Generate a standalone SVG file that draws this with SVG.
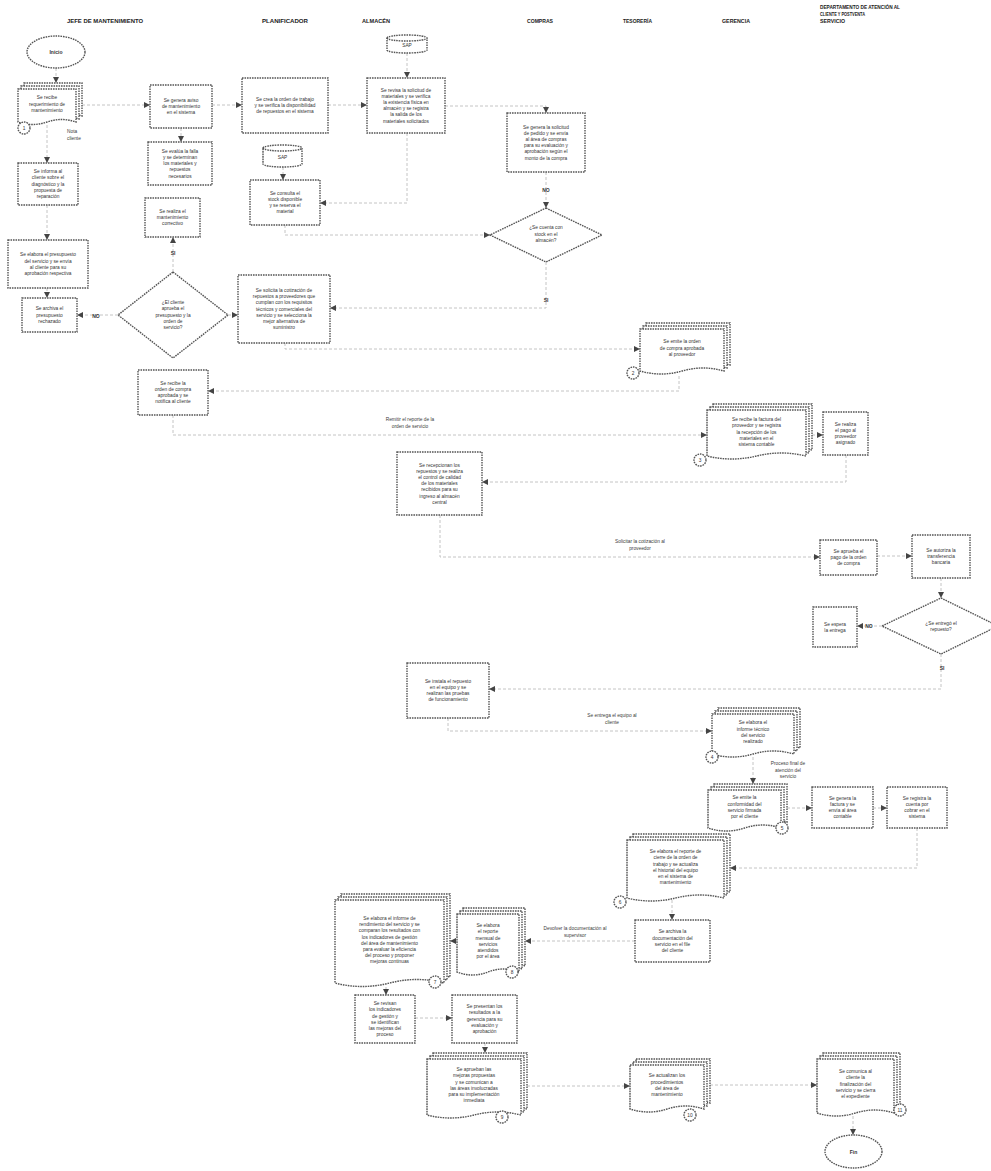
<svg xmlns="http://www.w3.org/2000/svg" width="991" height="1171" viewBox="0 0 991 1171">
<defs>
<style>
.b{fill:#fff;stroke:#555;stroke-width:1.4;stroke-dasharray:1.6 0.9}
.c{fill:none;stroke:#bdbdbd;stroke-width:0.9;stroke-dasharray:3 2}
.t{font-family:"Liberation Sans",Arial,sans-serif;font-size:4.8px;fill:#333;text-anchor:middle}
.l{font-family:"Liberation Sans",Arial,sans-serif;font-size:4.8px;fill:#3c3c3c;text-anchor:middle}
.y{font-family:"Liberation Sans",Arial,sans-serif;font-size:5px;font-weight:bold;fill:#333;text-anchor:middle}
.h{font-family:"Liberation Sans",Arial,sans-serif;font-size:5px;font-weight:bold;fill:#222}
</style>
<marker id="a" markerWidth="6" markerHeight="6" refX="6" refY="3" orient="auto" markerUnits="userSpaceOnUse"><path d="M0,0 L6,3 L0,6 z" fill="#444"/></marker>
</defs>
<rect width="991" height="1171" fill="#fff"/>

<g id="headers">
<text class="h" x="67" y="23" textLength="76" lengthAdjust="spacingAndGlyphs">JEFE DE MANTENIMIENTO</text>
<text class="h" x="262" y="23" textLength="46" lengthAdjust="spacingAndGlyphs">PLANIFICADOR</text>
<text class="h" x="362" y="23" textLength="28" lengthAdjust="spacingAndGlyphs">ALMACÉN</text>
<text class="h" x="527" y="23" textLength="26" lengthAdjust="spacingAndGlyphs">COMPRAS</text>
<text class="h" x="623" y="23" textLength="29" lengthAdjust="spacingAndGlyphs">TESORERÍA</text>
<text class="h" x="722" y="23" textLength="28" lengthAdjust="spacingAndGlyphs">GERENCIA</text>
<text class="h" x="820" y="9" textLength="80" lengthAdjust="spacingAndGlyphs">DEPARTAMENTO DE ATENCIÓN AL</text>
<text class="h" x="820" y="16" textLength="45" lengthAdjust="spacingAndGlyphs">CLIENTE Y POSTVENTA</text>
<text class="h" x="820" y="23" textLength="25" lengthAdjust="spacingAndGlyphs">SERVICIO</text>
</g>

<g id="connectors">
<path class="c" marker-end="url(#a)" d="M56,68 V83"/>
<path class="c" marker-end="url(#a)" d="M82,105 H150"/>
<path class="c" marker-end="url(#a)" d="M181,128 V142"/>
<path class="c" marker-end="url(#a)" d="M212,105 H242"/>
<path class="c" marker-end="url(#a)" d="M328,105 H367"/>
<path class="c" marker-end="url(#a)" d="M407,53 V78"/>
<path class="c" marker-end="url(#a)" d="M445,106 H546 V113"/>
<path class="c" marker-end="url(#a)" d="M546,172 V208"/>
<path class="c" marker-end="url(#a)" d="M407,133 V203 H320"/>
<path class="c" marker-end="url(#a)" d="M283,167 V180"/>
<path class="c" marker-end="url(#a)" d="M285,225 V235 H490"/>
<path class="c" marker-end="url(#a)" d="M546,262 V308 H330"/>
<path class="c" marker-end="url(#a)" d="M228,315 H238"/>
<path class="c" marker-end="url(#a)" d="M285,343 V349 H640"/>
<path class="c" marker-end="url(#a)" d="M679,376 V391 H208"/>
<path class="c" marker-end="url(#a)" d="M173,415 V435 H707"/>
<path class="c" marker-end="url(#a)" d="M812,435 H823"/>
<path class="c" marker-end="url(#a)" d="M846,455 V482 H482"/>
<path class="c" marker-end="url(#a)" d="M440,515 V557 H820"/>
<path class="c" marker-end="url(#a)" d="M877,556 H912"/>
<path class="c" marker-end="url(#a)" d="M941,578 V598"/>
<path class="c" marker-end="url(#a)" d="M882,626 H857"/>
<path class="c" marker-end="url(#a)" d="M941,654 V689 H489"/>
<path class="c" marker-end="url(#a)" d="M448,718 V731 H712"/>
<path class="c" marker-end="url(#a)" d="M753,757 V784"/>
<path class="c" marker-end="url(#a)" d="M787,808 H812"/>
<path class="c" marker-end="url(#a)" d="M873,808 H887"/>
<path class="c" marker-end="url(#a)" d="M917,828 V868 H730"/>
<path class="c" marker-end="url(#a)" d="M672,900 V920"/>
<path class="c" marker-end="url(#a)" d="M635,941 H525"/>
<path class="c" marker-end="url(#a)" d="M457,941 H450"/>
<path class="c" marker-end="url(#a)" d="M386,987 V995"/>
<path class="c" marker-end="url(#a)" d="M415,1018 H452"/>
<path class="c" marker-end="url(#a)" d="M485,1043 V1053"/>
<path class="c" marker-end="url(#a)" d="M527,1086 H630"/>
<path class="c" marker-end="url(#a)" d="M710,1085 H817"/>
<path class="c" marker-end="url(#a)" d="M853,1116 V1135"/>
<path class="c" marker-end="url(#a)" d="M47,125 V163"/>
<path class="c" marker-end="url(#a)" d="M47,205 V240"/>
<path class="c" marker-end="url(#a)" d="M47,288 V298"/>
<path class="c" marker-end="url(#a)" d="M118,315 H77"/>
<path class="c" marker-end="url(#a)" d="M173,272 V237"/>
<text class="l" x="67" y="133" style="text-anchor:start">Nota</text>
<text class="l" x="67" y="140" style="text-anchor:start">cliente</text>
<text class="y" x="546" y="192">NO</text>
<text class="y" x="546" y="302">SI</text>
<text class="y" x="173" y="255">SI</text>
<text class="y" x="96" y="318">NO</text>
<text class="l" x="410" y="421">Remitir el reporte de la<tspan x="410" dy="6.5">orden de servicio</tspan></text>
<text class="l" x="640" y="543">Solicitar la cotización al<tspan x="640" dy="6.5">proveedor</tspan></text>
<text class="y" x="869" y="628">NO</text>
<text class="y" x="942" y="670">SI</text>
<text class="l" x="612" y="717">Se entrega el equipo al<tspan x="612" dy="6.5">cliente</tspan></text>
<text class="l" x="788" y="765">Proceso final de<tspan x="788" dy="6.5">atención del</tspan><tspan x="788" dy="6.5">servicio</tspan></text>
<text class="l" x="575" y="930">Devolver la documentación al<tspan x="575" dy="6.5">supervisor</tspan></text>
</g>

<g id="start"><ellipse class="b" cx="56" cy="52" rx="29" ry="16"/><text class="y" x="56" y="54">Inicio</text></g>

<g id="doc1">
<g transform="translate(18,89)"><path class="b" d="M6,-6 h58 v33 q-14.5,-5 -29,0 t-29,0 z"/><path class="b" d="M3,-3 h58 v33 q-14.5,-5 -29,0 t-29,0 z"/><path class="b" d="M0,0 h58 v33 q-14.5,-5 -29,0 t-29,0 z"/></g>
<circle class="b" cx="24" cy="128" r="6"/><text class="t" x="24" y="130">1</text>
<text class="t" x="47" y="99.4">Se recibe<tspan x="47" dy="6.2">requerimiento de</tspan><tspan x="47" dy="6.2">mantenimiento</tspan></text>
</g>

<g id="p1"><rect class="b" x="150" y="85" width="62" height="43"/><text class="t" x="181" y="101.9">Se genera aviso<tspan x="181" dy="6.2">de mantenimiento</tspan><tspan x="181" dy="6.2">en el sistema</tspan></text></g>
<g id="p2"><rect class="b" x="148" y="142" width="64" height="43"/><text class="t" x="180" y="152.7">Se evalúa la falla<tspan x="180" dy="6.2">y se determinan</tspan><tspan x="180" dy="6.2">los materiales y</tspan><tspan x="180" dy="6.2">repuestos</tspan><tspan x="180" dy="6.2">necesarios</tspan></text></g>
<g id="p3"><rect class="b" x="242" y="78" width="86" height="55"/><text class="t" x="285" y="100.9">Se crea la orden de trabajo<tspan x="285" dy="6.2">y se verifica la disponibilidad</tspan><tspan x="285" dy="6.2">de repuestos en el sistema</tspan></text></g>
<g id="db1"><path class="b" d="M263,148 a19.5,3 0 0 1 39,0 v16 a19.5,3 0 0 1 -39,0 z"/><path class="b" d="M263,148 a19.5,3 0 0 0 39,0" fill="none"/><text class="t" x="282.5" y="159">SAP</text></g>
<g id="p4"><rect class="b" x="250" y="180" width="70" height="45"/><text class="t" x="285" y="194.8">Se consulta el<tspan x="285" dy="6.2">stock disponible</tspan><tspan x="285" dy="6.2">y se reserva el</tspan><tspan x="285" dy="6.2">material</tspan></text></g>
<g id="db2"><path class="b" d="M387,38 a20,3 0 0 1 40,0 v12 a20,3 0 0 1 -40,0 z"/><path class="b" d="M387,38 a20,3 0 0 0 40,0" fill="none"/><text class="t" x="407" y="47">SAP</text></g>
<g id="p5"><rect class="b" x="367" y="78" width="78" height="55"/><text class="t" x="406" y="91.6">Se revisa la solicitud de<tspan x="406" dy="6.2">materiales y se verifica</tspan><tspan x="406" dy="6.2">la existencia física en</tspan><tspan x="406" dy="6.2">almacén y se registra</tspan><tspan x="406" dy="6.2">la salida de los</tspan><tspan x="406" dy="6.2">materiales solicitados</tspan></text></g>
<g id="p6"><rect class="b" x="507" y="113" width="78" height="59"/><text class="t" x="546" y="128.6">Se genera la solicitud<tspan x="546" dy="6.2">de pedido y se envía</tspan><tspan x="546" dy="6.2">al área de compras</tspan><tspan x="546" dy="6.2">para su evaluación y</tspan><tspan x="546" dy="6.2">aprobación según el</tspan><tspan x="546" dy="6.2">monto de la compra</tspan></text></g>
<g id="p7"><rect class="b" x="18" y="163" width="60" height="42"/><text class="t" x="48" y="173.2">Se informa al<tspan x="48" dy="6.2">cliente sobre el</tspan><tspan x="48" dy="6.2">diagnóstico y la</tspan><tspan x="48" dy="6.2">propuesta de</tspan><tspan x="48" dy="6.2">reparación</tspan></text></g>
<g id="p8"><rect class="b" x="8" y="240" width="80" height="48"/><text class="t" x="48" y="256.3">Se elabora el presupuesto<tspan x="48" dy="6.2">del servicio y se envía</tspan><tspan x="48" dy="6.2">al cliente para su</tspan><tspan x="48" dy="6.2">aprobación respectiva</tspan></text></g>
<g id="p9"><rect class="b" x="22" y="298" width="55" height="34"/><text class="t" x="49.5" y="310.4">Se archiva el<tspan x="49.5" dy="6.2">presupuesto</tspan><tspan x="49.5" dy="6.2">rechazado</tspan></text></g>
<g id="p10"><rect class="b" x="145" y="198" width="55" height="39"/><text class="t" x="172.5" y="212.9">Se realiza el<tspan x="172.5" dy="6.2">mantenimiento</tspan><tspan x="172.5" dy="6.2">correctivo</tspan></text></g>
<g id="d1"><path class="b" d="M173,272 L228,315 L173,358 L118,315 z"/><text class="t" x="173" y="304.2">¿El cliente<tspan x="173" dy="6.2">aprueba el</tspan><tspan x="173" dy="6.2">presupuesto y la</tspan><tspan x="173" dy="6.2">orden de</tspan><tspan x="173" dy="6.2">servicio?</tspan></text></g>
<g id="p11"><rect class="b" x="238" y="275" width="92" height="68"/><text class="t" x="284" y="292">Se solicita la cotización de<tspan x="284" dy="6.2">repuestos a proveedores que</tspan><tspan x="284" dy="6.2">cumplan con los requisitos</tspan><tspan x="284" dy="6.2">técnicos y comerciales del</tspan><tspan x="284" dy="6.2">servicio y se selecciona la</tspan><tspan x="284" dy="6.2">mejor alternativa de</tspan><tspan x="284" dy="6.2">suministro</tspan></text></g>
<g id="d2"><path class="b" d="M546,208 L602,235 L546,262 L490,235 z"/><text class="t" x="546" y="229.4">¿Se cuenta con<tspan x="546" dy="6.2">stock en el</tspan><tspan x="546" dy="6.2">almacén?</tspan></text></g>
<g id="p12"><rect class="b" x="138" y="370" width="70" height="45"/><text class="t" x="173" y="384.8">Se recibe la<tspan x="173" dy="6.2">orden de compra</tspan><tspan x="173" dy="6.2">aprobada y se</tspan><tspan x="173" dy="6.2">notifica al cliente</tspan></text></g>

<g id="docA">
<g transform="translate(640,329)"><path class="b" d="M6,-6 h84 v42 q-21,-6 -42,0 t-42,0 z"/><path class="b" d="M3,-3 h84 v42 q-21,-6 -42,0 t-42,0 z"/><path class="b" d="M0,0 h84 v42 q-21,-6 -42,0 t-42,0 z"/></g>
<circle class="b" cx="633" cy="373" r="6"/><text class="t" x="633" y="375">2</text>
<text class="t" x="682" y="343.4">Se emite la orden<tspan x="682" dy="6.2">de compra aprobada</tspan><tspan x="682" dy="6.2">al proveedor</tspan></text>
</g>

<g id="docB">
<g transform="translate(707,410)"><path class="b" d="M6,-6 h99 v46 q-24.75,-6 -49.5,0 t-49.5,0 z"/><path class="b" d="M3,-3 h99 v46 q-24.75,-6 -49.5,0 t-49.5,0 z"/><path class="b" d="M0,0 h99 v46 q-24.75,-6 -49.5,0 t-49.5,0 z"/></g>
<circle class="b" cx="700" cy="460" r="6"/><text class="t" x="700" y="462">3</text>
<text class="t" x="756.5" y="421.2">Se recibe la factura del<tspan x="756.5" dy="6.2">proveedor y se registra</tspan><tspan x="756.5" dy="6.2">la recepción de los</tspan><tspan x="756.5" dy="6.2">materiales en el</tspan><tspan x="756.5" dy="6.2">sistema contable</tspan></text>
</g>

<g id="pC"><rect class="b" x="823" y="412" width="45" height="43"/><text class="t" x="845.5" y="425.8">Se realiza<tspan x="845.5" dy="6.2">el pago al</tspan><tspan x="845.5" dy="6.2">proveedor</tspan><tspan x="845.5" dy="6.2">asignado</tspan></text></g>
<g id="p13"><rect class="b" x="397" y="452" width="85" height="63"/><text class="t" x="439.5" y="466.5">Se recepcionan los<tspan x="439.5" dy="6.2">repuestos y se realiza</tspan><tspan x="439.5" dy="6.2">el control de calidad</tspan><tspan x="439.5" dy="6.2">de los materiales</tspan><tspan x="439.5" dy="6.2">recibidos para su</tspan><tspan x="439.5" dy="6.2">ingreso al almacén</tspan><tspan x="439.5" dy="6.2">central</tspan></text></g>
<g id="p14"><rect class="b" x="820" y="540" width="57" height="35"/><text class="t" x="848.5" y="553">Se aprueba el<tspan x="848.5" dy="6.2">pago de la orden</tspan><tspan x="848.5" dy="6.2">de compra</tspan></text></g>
<g id="p15"><rect class="b" x="912" y="535" width="58" height="43"/><text class="t" x="941" y="551.9">Se autoriza la<tspan x="941" dy="6.2">transferencia</tspan><tspan x="941" dy="6.2">bancaria</tspan></text></g>
<g id="d3"><path class="b" d="M941,598 L998,626 L941,654 L882,626 z"/><text class="t" x="941" y="624.5">¿Se entregó el<tspan x="941" dy="6.2">repuesto?</tspan></text></g>
<g id="p16"><rect class="b" x="813" y="607" width="44" height="40"/><text class="t" x="835" y="625.5">Se espera<tspan x="835" dy="6.2">la entrega</tspan></text></g>
<g id="p17"><rect class="b" x="407" y="663" width="82" height="55"/><text class="t" x="448" y="682.8">Se instala el repuesto<tspan x="448" dy="6.2">en el equipo y se</tspan><tspan x="448" dy="6.2">realizan las pruebas</tspan><tspan x="448" dy="6.2">de funcionamiento</tspan></text></g>

<g id="docD">
<g transform="translate(712,714)"><path class="b" d="M6,-6 h82 v40 q-20.5,-6 -41,0 t-41,0 z"/><path class="b" d="M3,-3 h82 v40 q-20.5,-6 -41,0 t-41,0 z"/><path class="b" d="M0,0 h82 v40 q-20.5,-6 -41,0 t-41,0 z"/></g>
<circle class="b" cx="712" cy="757" r="6"/><text class="t" x="712" y="759">4</text>
<text class="t" x="753" y="724.3">Se elabora el<tspan x="753" dy="6.2">informe técnico</tspan><tspan x="753" dy="6.2">del servicio</tspan><tspan x="753" dy="6.2">realizado</tspan></text>
</g>

<g id="docE">
<g transform="translate(708,790)"><path class="b" d="M6,-6 h73 v38 q-18.25,-6 -36.5,0 t-36.5,0 z"/><path class="b" d="M3,-3 h73 v38 q-18.25,-6 -36.5,0 t-36.5,0 z"/><path class="b" d="M0,0 h73 v38 q-18.25,-6 -36.5,0 t-36.5,0 z"/></g>
<circle class="b" cx="782" cy="828" r="6"/><text class="t" x="782" y="830">5</text>
<text class="t" x="744.5" y="799.3">Se emite la<tspan x="744.5" dy="6.2">conformidad del</tspan><tspan x="744.5" dy="6.2">servicio firmada</tspan><tspan x="744.5" dy="6.2">por el cliente</tspan></text>
</g>

<g id="pF"><rect class="b" x="812" y="787" width="61" height="41"/><text class="t" x="842.5" y="799.8">Se genera la<tspan x="842.5" dy="6.2">factura y se</tspan><tspan x="842.5" dy="6.2">envía al área</tspan><tspan x="842.5" dy="6.2">contable</tspan></text></g>
<g id="pG"><rect class="b" x="887" y="787" width="60" height="41"/><text class="t" x="917" y="799.8">Se registra la<tspan x="917" dy="6.2">cuenta por</tspan><tspan x="917" dy="6.2">cobrar en el</tspan><tspan x="917" dy="6.2">sistema</tspan></text></g>

<g id="docH">
<g transform="translate(627,840)"><path class="b" d="M6,-6 h97 v58 q-24.25,-6 -48.5,0 t-48.5,0 z"/><path class="b" d="M3,-3 h97 v58 q-24.25,-6 -48.5,0 t-48.5,0 z"/><path class="b" d="M0,0 h97 v58 q-24.25,-6 -48.5,0 t-48.5,0 z"/></g>
<circle class="b" cx="620" cy="902" r="6"/><text class="t" x="620" y="904">6</text>
<text class="t" x="675.5" y="853.1">Se elabora el reporte de<tspan x="675.5" dy="6.2">cierre de la orden de</tspan><tspan x="675.5" dy="6.2">trabajo y se actualiza</tspan><tspan x="675.5" dy="6.2">el historial del equipo</tspan><tspan x="675.5" dy="6.2">en el sistema de</tspan><tspan x="675.5" dy="6.2">mantenimiento</tspan></text>
</g>

<g id="pI"><rect class="b" x="635" y="920" width="75" height="42"/><text class="t" x="672.5" y="933.3">Se archiva la<tspan x="672.5" dy="6.2">documentación del</tspan><tspan x="672.5" dy="6.2">servicio en el file</tspan><tspan x="672.5" dy="6.2">del cliente</tspan></text></g>

<g id="docJ">
<g transform="translate(335,900)"><path class="b" d="M6,-6 h109 v83 q-27.25,-7 -54.5,0 t-54.5,0 z"/><path class="b" d="M3,-3 h109 v83 q-27.25,-7 -54.5,0 t-54.5,0 z"/><path class="b" d="M0,0 h109 v83 q-27.25,-7 -54.5,0 t-54.5,0 z"/></g>
<circle class="b" cx="435" cy="982" r="6"/><text class="t" x="435" y="984">7</text>
<text class="t" x="389.5" y="919.9">Se elabora el informe de<tspan x="389.5" dy="6.2">rendimiento del servicio y se</tspan><tspan x="389.5" dy="6.2">comparan los resultados con</tspan><tspan x="389.5" dy="6.2">los indicadores de gestión</tspan><tspan x="389.5" dy="6.2">del área de mantenimiento</tspan><tspan x="389.5" dy="6.2">para evaluar la eficiencia</tspan><tspan x="389.5" dy="6.2">del proceso y proponer</tspan><tspan x="389.5" dy="6.2">mejoras continuas</tspan></text>
</g>

<g id="docK">
<g transform="translate(457,914)"><path class="b" d="M6,-6 h62 v58 q-15.5,-6 -31,0 t-31,0 z"/><path class="b" d="M3,-3 h62 v58 q-15.5,-6 -31,0 t-31,0 z"/><path class="b" d="M0,0 h62 v58 q-15.5,-6 -31,0 t-31,0 z"/></g>
<circle class="b" cx="512" cy="972" r="6"/><text class="t" x="512" y="974">8</text>
<text class="t" x="488" y="927.1">Se elabora<tspan x="488" dy="6.2">el reporte</tspan><tspan x="488" dy="6.2">mensual de</tspan><tspan x="488" dy="6.2">servicios</tspan><tspan x="488" dy="6.2">atendidos</tspan><tspan x="488" dy="6.2">por el área</tspan></text>
</g>

<g id="pL"><rect class="b" x="355" y="995" width="60" height="48"/><text class="t" x="385" y="1005.1">Se revisan<tspan x="385" dy="6.2">los indicadores</tspan><tspan x="385" dy="6.2">de gestión y</tspan><tspan x="385" dy="6.2">se identifican</tspan><tspan x="385" dy="6.2">las mejoras del</tspan><tspan x="385" dy="6.2">proceso</tspan></text></g>
<g id="pM"><rect class="b" x="452" y="995" width="65" height="48"/><text class="t" x="484.5" y="1008.2">Se presentan los<tspan x="484.5" dy="6.2">resultados a la</tspan><tspan x="484.5" dy="6.2">gerencia para su</tspan><tspan x="484.5" dy="6.2">evaluación y</tspan><tspan x="484.5" dy="6.2">aprobación</tspan></text></g>

<g id="docN">
<g transform="translate(427,1059)"><path class="b" d="M6,-6 h94 v56 q-23.5,-6 -47,0 t-47,0 z"/><path class="b" d="M3,-3 h94 v56 q-23.5,-6 -47,0 t-47,0 z"/><path class="b" d="M0,0 h94 v56 q-23.5,-6 -47,0 t-47,0 z"/></g>
<circle class="b" cx="502" cy="1117" r="6"/><text class="t" x="502" y="1119">9</text>
<text class="t" x="474" y="1071.1">Se aprueban las<tspan x="474" dy="6.2">mejoras propuestas</tspan><tspan x="474" dy="6.2">y se comunican a</tspan><tspan x="474" dy="6.2">las áreas involucradas</tspan><tspan x="474" dy="6.2">para su implementación</tspan><tspan x="474" dy="6.2">inmediata</tspan></text>
</g>

<g id="docO">
<g transform="translate(630,1065)"><path class="b" d="M6,-6 h74 v44 q-18.5,-6 -37,0 t-37,0 z"/><path class="b" d="M3,-3 h74 v44 q-18.5,-6 -37,0 t-37,0 z"/><path class="b" d="M0,0 h74 v44 q-18.5,-6 -37,0 t-37,0 z"/></g>
<circle class="b" cx="690" cy="1115" r="6"/><text class="t" x="690" y="1117">10</text>
<text class="t" x="667" y="1077.3">Se actualizan los<tspan x="667" dy="6.2">procedimientos</tspan><tspan x="667" dy="6.2">del área de</tspan><tspan x="667" dy="6.2">mantenimiento</tspan></text>
</g>

<g id="docP">
<g transform="translate(817,1059)"><path class="b" d="M6,-6 h77 v54 q-19.25,-6 -38.5,0 t-38.5,0 z"/><path class="b" d="M3,-3 h77 v54 q-19.25,-6 -38.5,0 t-38.5,0 z"/><path class="b" d="M0,0 h77 v54 q-19.25,-6 -38.5,0 t-38.5,0 z"/></g>
<circle class="b" cx="900" cy="1110" r="6"/><text class="t" x="900" y="1112">11</text>
<text class="t" x="855.5" y="1073.2">Se comunica al<tspan x="855.5" dy="6.2">cliente la</tspan><tspan x="855.5" dy="6.2">finalización del</tspan><tspan x="855.5" dy="6.2">servicio y se cierra</tspan><tspan x="855.5" dy="6.2">el expediente</tspan></text>
</g>

<g id="end"><ellipse class="b" cx="853.5" cy="1151.5" rx="28.5" ry="16.5"/><text class="y" x="853.5" y="1153.5">Fin</text></g>
</svg>
